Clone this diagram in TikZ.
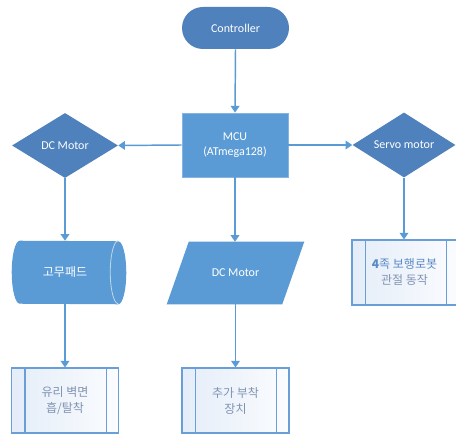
\documentclass[tikz,border=0pt]{standalone}
\usepackage{fontspec}
\setmainfont{Carlito}
\newfontfamily\kr{Noto Sans CJK KR}
\usetikzlibrary{shapes.geometric,arrows.meta,calc}
\definecolor{dk}{HTML}{4F81BD}
\definecolor{lt}{HTML}{5B9BD5}
\definecolor{ln}{HTML}{5B9BD5}
\definecolor{bx}{HTML}{6A9ED6}
\definecolor{tx}{HTML}{7F93B3}
\definecolor{tb}{HTML}{5A8AC6}
\definecolor{bl}{HTML}{E4EDF8}
\definecolor{br}{HTML}{FBFCFE}
\begin{document}
\begin{tikzpicture}[x=0.75pt,y=-0.75pt,
  lbl/.style={font=\fontsize{9}{11.5}\selectfont, text=white, align=center},
  term/.style={rectangle, rounded corners=15.75pt, fill=dk, minimum width=80.25pt, minimum height=31.5pt, inner sep=0pt, lbl},
  proc/.style={rectangle, fill=lt, draw=lt!75!white, line width=0.6pt, minimum width=79.5pt, minimum height=48pt, inner sep=0pt, lbl},
  dec/.style={diamond, aspect=1.6, inner sep=0pt, fill=dk, minimum height=48.75pt, lbl},
  ghost/.style={rectangle, inner sep=0pt},
  pre/.style={rectangle, draw=bx, line width=0.8pt, left color=bl, right color=br, minimum width=80.25pt, minimum height=48.75pt, inner sep=0pt},
  inner/.style={draw=bx, line width=0.8pt},
  krt/.style={font=\kr\fontsize{9}{12}\selectfont, text=tx, align=center},
  arr/.style={-{Triangle[width=6.5pt,length=5pt]}, draw=ln, line width=1.1pt}]
\useasboundingbox (0,0) rectangle (456,434);
\fill[white] (0,0) rectangle (456,434);

% nodes
\node[term] (ctrl) at (235.5,28) {Controller};
\node[proc] (mcu) at (235,145) {MCU\\(ATmega128)};
\node[dec, minimum width=79.5pt] (ld) at (65,145.5) {DC Motor};
\node[dec, minimum width=77.25pt] (rd) at (404,145) {Servo motor};

% cylinder (rubber pad)
\node[ghost, minimum width=73.5pt, minimum height=47.25pt] (pad) at (69,272.5) {};
\fill[lt] (pad.north west) arc[start angle=90, end angle=270, x radius=6pt, y radius=23.625pt]
  -- (pad.south east) arc[start angle=-90, end angle=90, x radius=6pt, y radius=23.625pt] -- cycle;
\draw[white!60!lt, line width=0.6pt] (pad.north east) arc[start angle=90, end angle=270, x radius=6pt, y radius=23.625pt];
\node[lbl, font=\kr\fontsize{9}{11}\selectfont] (padtxt) at ($(pad.center)+(-4,0)$) {고무패드};

% parallelogram
\node[ghost, minimum width=102.75pt, minimum height=46.5pt] (par) at (235.5,273) {};
\fill[lt] ([xshift=16.5pt]par.north west) -- (par.north east) -- ([xshift=-16.5pt]par.south east) -- (par.south west) -- cycle;
\node[lbl] (partxt) at (par.center) {DC Motor};

% predefined process boxes
\node[pre] (rb) at (405.5,272.5) {};
\draw[inner] ([xshift=10.5pt]rb.north west) -- ([xshift=10.5pt]rb.south west);
\draw[inner] ([xshift=-9.75pt]rb.north east) -- ([xshift=-9.75pt]rb.south east);
\node[krt] (rbtxt) at ($(rb.center)+(-1,0)$) {\textcolor{tb}{\textbf{4}족 보행로봇}\\관절 동작};

\node[pre] (lb) at (65,400.5) {};
\draw[inner] ([xshift=10.5pt]lb.north west) -- ([xshift=10.5pt]lb.south west);
\draw[inner] ([xshift=-9.75pt]lb.north east) -- ([xshift=-9.75pt]lb.south east);
\node[krt] (lbtxt) at (lb.center) {유리 벽면\\흡/탈착};

\node[pre] (mb) at (235.5,400.5) {};
\draw[inner] ([xshift=10.5pt]mb.north west) -- ([xshift=10.5pt]mb.south west);
\draw[inner] ([xshift=-9.75pt]mb.north east) -- ([xshift=-9.75pt]mb.south east);
\node[krt] (mbtxt) at (mb.center) {추가 부착\\장치};

% connectors
\draw[arr] (ctrl.south) -- (mcu.north);
\draw[arr] (mcu.west) -- (ld.east);
\draw[arr] (mcu.east) -- (rd.west);
\draw[arr] (mcu.south) -- (mcu.south |- par.north);
\draw[arr] (ld.south) -- (ld.south |- pad.north);
\draw[arr] (rd.south) -- (rd.south |- rb.north);
\draw[arr] (lb.north |- pad.south) -- (lb.north);
\draw[arr] (mb.north |- par.south) -- (mb.north);
\end{tikzpicture}
\end{document}
